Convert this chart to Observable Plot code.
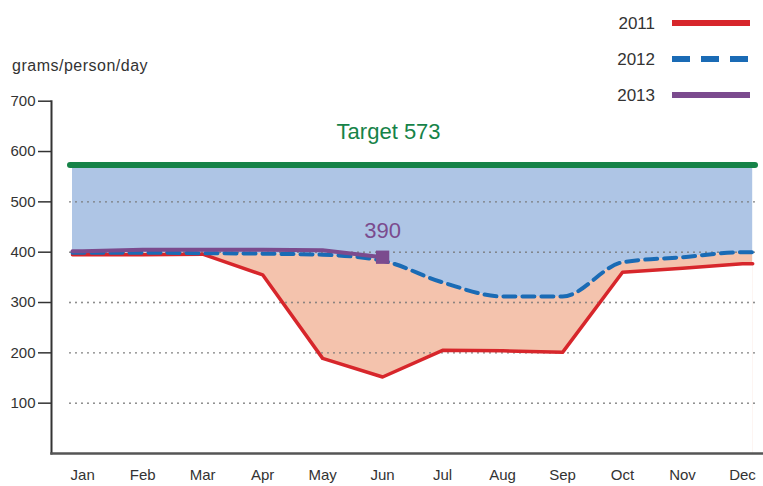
<!DOCTYPE html>
<html>
<head>
<meta charset="utf-8">
<script src="https://cdn.jsdelivr.net/npm/d3@7"></script>
<script src="https://cdn.jsdelivr.net/npm/@observablehq/plot@0.6"></script>
<style>
  body { margin: 0; background: #fff; }
  #wrap { position: relative; width: 763px; height: 486px; font-family: "Liberation Sans", Arial, sans-serif; }
  #overlay { position: absolute; left: 0; top: 0; pointer-events: none; }
</style>
</head>
<body>
<div id="wrap"></div>
<script>
// ---- data ----
const months = ["Jan", "Feb", "Mar", "Apr", "May", "Jun", "Jul", "Aug", "Sep", "Oct", "Nov", "Dec"];
const v2011 = [395, 395, 396, 355, 189, 152, 205, 204, 201, 360, 368, 377];
const v2012 = [399, 399, 398, 397, 395, 383, 340, 312, 312, 380, 390, 400];
const v2013 = [402, 405, 405, 405, 404, 390];
const target = 573;
const yTicks = [100, 200, 300, 400, 500, 600, 700];
const gridValues = [100, 200, 300, 400, 500];
const seriesNames = ["2011", "2012", "2013"];

// ---- styling ----
const C = {
  red: "#d7262b", blue: "#1a6bb5", purple: "#7b4b8e", green: "#168348",
  blueFill: "#aec5e5", salmon: "#f4c3ad", text: "#333"
};
const pad = 0.17; // lines run a little past the first/last month

function rows(vals, extendLeft, extendRight) {
  const r = vals.map((v, i) => ({x: i, y: v}));
  if (extendLeft) r.unshift({x: -pad, y: vals[0]});
  if (extendRight) r.push({x: vals.length - 1 + pad, y: vals[vals.length - 1]});
  return r;
}
const r2011 = rows(v2011, true, true);
const r2012 = rows(v2012, true, true);
const r2013 = rows(v2013, true, false);
const last2013 = [{x: v2013.length - 1, y: v2013[v2013.length - 1]}];

const chart = Plot.plot({
  width: 763,
  height: 486,
  marginLeft: 51,
  marginRight: 0,
  marginTop: 100.7,
  marginBottom: 33,
  style: {color: C.text, fontFamily: "'Liberation Sans', Arial, sans-serif", background: "transparent"},
  x: {type: "linear", domain: [-0.52, 11.35]},
  y: {domain: [0, 700]},
  marks: [
    Plot.areaY(r2012, {x: "x", y1: "y", y2: () => target, fill: C.blueFill, curve: "monotone-x"}),
    Plot.areaY(r2012, {x: "x", y: "y", fill: C.salmon, curve: "monotone-x"}),
    Plot.areaY(r2011, {x: "x", y: "y", fill: "#fff"}),
    Plot.ruleY(gridValues, {stroke: "#777", strokeWidth: 1.8, strokeDasharray: "0,6", strokeLinecap: "round", insetLeft: 19, insetRight: 8}),
    Plot.line(r2011, {x: "x", y: "y", stroke: C.red, strokeWidth: 3.5}),
    Plot.line(r2012, {x: "x", y: "y", stroke: C.blue, strokeWidth: 4, strokeDasharray: "12,7", curve: "monotone-x"}),
    Plot.line(r2013, {x: "x", y: "y", stroke: C.purple, strokeWidth: 4}),
    Plot.dot(last2013, {x: "x", y: "y", symbol: "square", r: 7.5, fill: C.purple}),
    Plot.ruleY([target], {stroke: C.green, strokeWidth: 6, strokeLinecap: "round", insetLeft: 19, insetRight: 8}),
    Plot.text([target], {x: () => 5, y: d => d, text: d => `Target ${d}`, dx: 6, dy: -33, fontSize: 22, fill: C.green}),
    Plot.text(last2013, {x: "x", y: "y", text: d => `${d.y}`, dy: -26, fontSize: 22, fill: C.purple}),
    Plot.axisY({ticks: yTicks, tickSize: 13, tickPadding: 3, fontSize: 15, label: null, tickFormat: d => `${d}`, strokeWidth: 1.5}),
    Plot.axisX({ticks: months.map((m, i) => i), tickFormat: i => months[i], tickSize: 0, tickPadding: 16, fontSize: 15, label: null}),
    Plot.frame({anchor: "left", stroke: "#333", strokeWidth: 2}),
    Plot.frame({anchor: "bottom", stroke: "#555", strokeWidth: 2.5})
  ]
});
document.getElementById("wrap").appendChild(chart);

// ---- legend and unit label (overlay above the plot area) ----
const ns = "http://www.w3.org/2000/svg";
const ov = document.createElementNS(ns, "svg");
ov.setAttribute("id", "overlay");
ov.setAttribute("width", 763);
ov.setAttribute("height", 110);
function el(tag, attrs, text) {
  const e = document.createElementNS(ns, tag);
  for (const k in attrs) e.setAttribute(k, attrs[k]);
  if (text != null) e.textContent = text;
  ov.appendChild(e);
  return e;
}
el("text", {x: 12, y: 71, "font-size": 16, fill: C.text, "letter-spacing": 0.5, "font-family": "'Liberation Sans', Arial, sans-serif"}, "grams/person/day");
const legendStyles = [
  {stroke: C.red, dash: null, y: 23},
  {stroke: C.blue, dash: "18,11", y: 59},
  {stroke: C.purple, dash: null, y: 95}
];
seriesNames.forEach((name, i) => {
  const s = legendStyles[i];
  el("text", {x: 655, y: s.y + 6, "text-anchor": "end", "font-size": 17, fill: C.text, "font-family": "'Liberation Sans', Arial, sans-serif"}, name);
  const ln = el("line", {x1: 672, x2: 750, y1: s.y, y2: s.y, stroke: s.stroke, "stroke-width": 6});
  if (s.dash) ln.setAttribute("stroke-dasharray", s.dash);
});
document.getElementById("wrap").appendChild(ov);
</script>
</body>
</html>
